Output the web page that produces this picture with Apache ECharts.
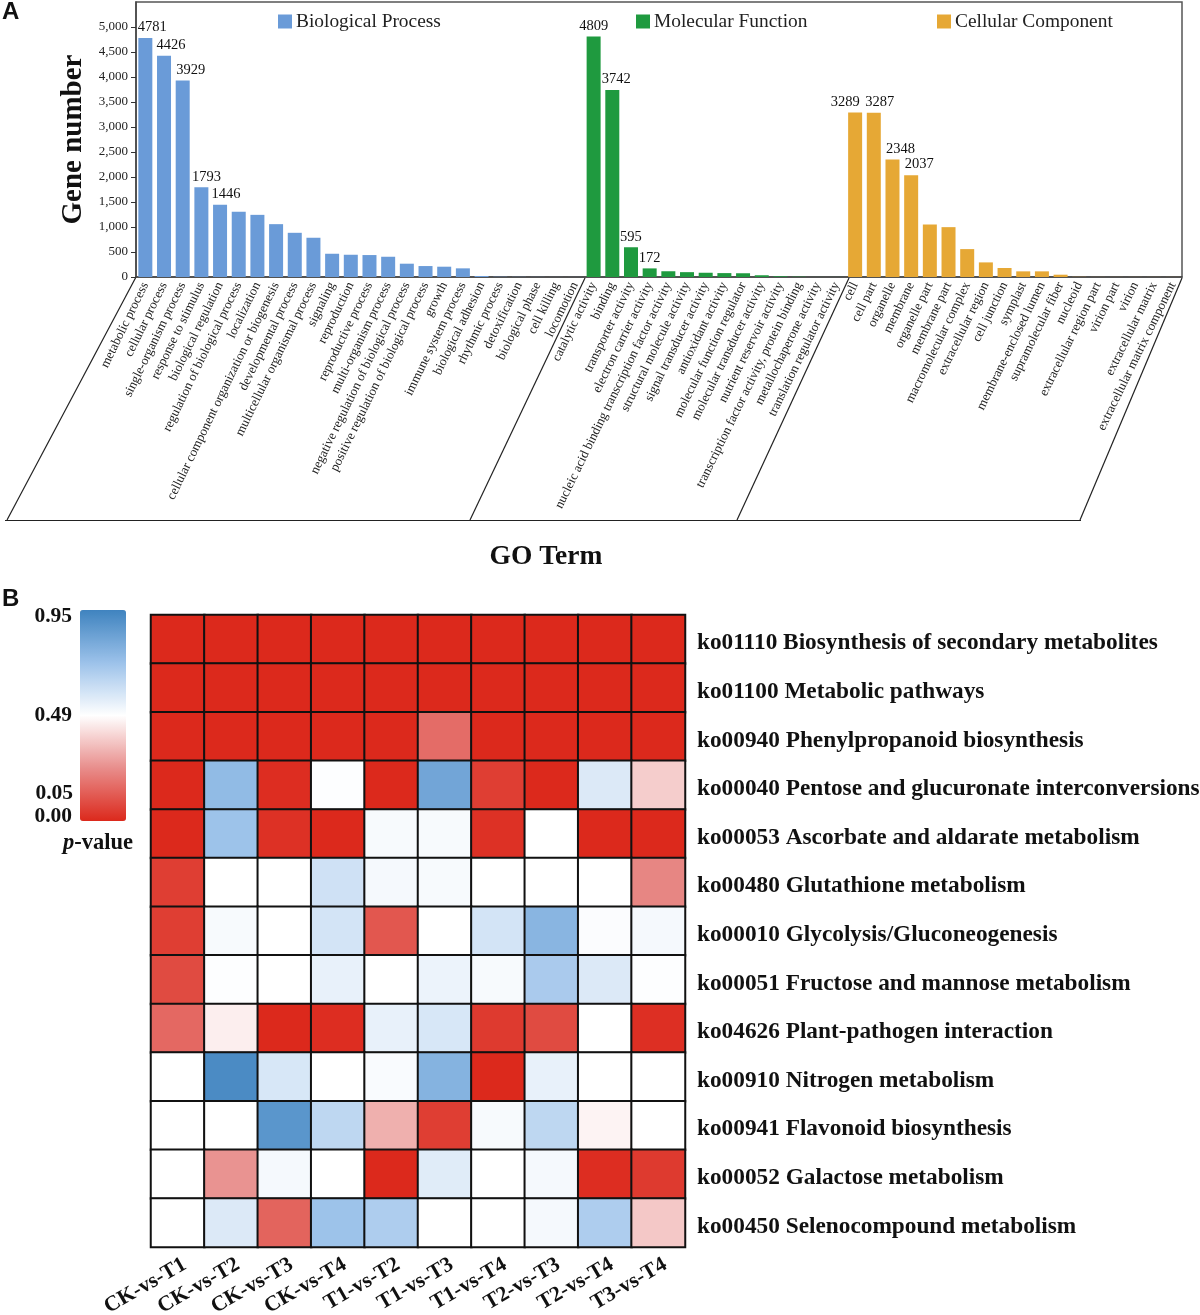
<!DOCTYPE html>
<html lang="en">
<head>
<meta charset="utf-8">
<title>GO terms and KEGG pathways</title>
<script src="https://cdn.jsdelivr.net/npm/echarts@6/dist/echarts.min.js"></script>
<style>
  html, body { margin: 0; padding: 0; background: #fff; }
  #chart { width: 1200px; height: 1315px; }
</style>
</head>
<body>
<div id="chart"></div>
<script>
var bpTerms = ['metabolic process', 'cellular process', 'single-organism process', 'response to stimulus',
    'biological regulation', 'regulation of biological process', 'localization',
    'cellular component organization or biogenesis', 'developmental process', 'multicellular organismal process',
    'signaling', 'reproduction', 'reproductive process', 'multi-organism process',
    'negative regulation of biological process', 'positive regulation of biological process', 'growth',
    'immune system process', 'biological adhesion', 'rhythmic process', 'detoxification', 'biological phase',
    'cell killing', 'locomotion'];
var mfTerms = ['catalytic activity', 'binding', 'transporter activity', 'electron carrier activity',
    'nucleic acid binding transcription factor activity', 'structural molecule activity',
    'signal transducer activity', 'antioxidant activity', 'molecular function regulator',
    'molecular transducer activity', 'nutrient reservoir activity', 'transcription factor activity, protein binding',
    'metallochaperone activity', 'translation regulator activity'];
var ccTerms = ['cell', 'cell part', 'organelle', 'membrane', 'organelle part', 'membrane part',
    'macromolecular complex', 'extracellular region', 'cell junction', 'symplast', 'membrane-enclosed lumen',
    'supramolecular fiber', 'nucleoid', 'extracellular region part', 'virion part', 'virion',
    'extracellular matrix', 'extracellular matrix component'];

var bpValues = [4781, 4426, 3929, 1793, 1446, 1303, 1243, 1057, 884, 785, 465, 445, 439, 405, 266, 219, 206, 173, 20, 5, 3, 2, 1, 1];
var mfValues = [4809, 3742, 595, 172, 115, 97, 85, 78, 75, 35, 14, 6, 1, 1];
var ccValues = [3289, 3287, 2348, 2037, 1050, 997, 558, 292, 180, 113, 113, 46, 3, 1, 1, 1, 1, 1];

var yTicks = [0, 500, 1000, 1500, 2000, 2500, 3000, 3500, 4000, 4500, 5000];

var comparisons = ['CK-vs-T1', 'CK-vs-T2', 'CK-vs-T3', 'CK-vs-T4', 'T1-vs-T2', 'T1-vs-T3', 'T1-vs-T4', 'T2-vs-T3', 'T2-vs-T4', 'T3-vs-T4'];
var pathways = ['ko01110 Biosynthesis of secondary metabolites', 'ko01100 Metabolic pathways',
    'ko00940 Phenylpropanoid biosynthesis', 'ko00040 Pentose and glucuronate interconversions',
    'ko00053 Ascorbate and aldarate metabolism', 'ko00480 Glutathione metabolism',
    'ko00010 Glycolysis/Gluconeogenesis', 'ko00051 Fructose and mannose metabolism',
    'ko04626 Plant-pathogen interaction', 'ko00910 Nitrogen metabolism', 'ko00941 Flavonoid biosynthesis',
    'ko00052 Galactose metabolism', 'ko00450 Selenocompound metabolism'];

var row01 = [0, 0, 0, 0, 0, 0, 0, 0, 0, 0];
var row02 = [0, 0, 0, 0, 0, 0, 0, 0, 0, 0];
var row03 = [0, 0, 0, 0, 0, 0.16, 0, 0, 0, 0];
var row04 = [0, 0.74, 0.01, 0.48, 0, 0.82, 0.05, 0, 0.56, 0.37];
var row05 = [0, 0.71, 0.02, 0, 0.495, 0.495, 0.02, 0.475, 0, 0];
var row06 = [0.05, 0.475, 0.475, 0.59, 0.5, 0.495, 0.475, 0.475, 0.475, 0.22];
var row07 = [0.05, 0.495, 0.475, 0.58, 0.11, 0.475, 0.58, 0.76, 0.485, 0.5];
var row08 = [0.08, 0.48, 0.475, 0.53, 0.475, 0.52, 0.495, 0.68, 0.56, 0.48];
var row09 = [0.15, 0.44, 0, 0.01, 0.53, 0.57, 0.04, 0.08, 0.475, 0.015];
var row10 = [0.475, 0.92, 0.57, 0.475, 0.49, 0.77, 0, 0.53, 0.475, 0.475];
var row11 = [0.475, 0.475, 0.88, 0.63, 0.31, 0.05, 0.495, 0.63, 0.45, 0.475];
var row12 = [0.475, 0.25, 0.5, 0.475, 0, 0.55, 0.475, 0.5, 0.01, 0.04];
var row13 = [0.475, 0.56, 0.14, 0.71, 0.67, 0.475, 0.475, 0.5, 0.67, 0.36];
var pRows = [row01, row02, row03, row04, row05, row06, row07, row08, row09, row10, row11, row12, row13];

var SERIF = '"Liberation Serif", "Times New Roman", serif';
var allTerms = bpTerms.concat(mfTerms, ccTerms);

// one bar series per GO class, padded with nulls so they share the category axis
function goSeries(name, values, start, color, shifts) {
    var data = allTerms.map(function () { return null; });
    values.forEach(function (v, i) {
        var item = { value: v };
        if (i < shifts.length) {
            item.label = { show: true, position: 'top', distance: 3, offset: [shifts[i], 0] };
        }
        data[start + i] = item;
    });
    return {
        name: name,
        type: 'bar',
        xAxisIndex: 0,
        yAxisIndex: 0,
        barWidth: 14,
        barGap: '-100%',
        itemStyle: { color: color },
        label: { fontFamily: SERIF, fontSize: 14.5, color: '#111' },
        data: data
    };
}

var heatData = [];
pRows.forEach(function (row, r) {
    row.forEach(function (v, c) {
        heatData.push([c, r, v]);
    });
});

function plainText(text, x, y, size, align, weight, family) {
    return {
        type: 'text',
        x: x,
        y: y,
        style: {
            text: text,
            fill: '#111',
            font: (weight || 'bold') + ' ' + size + 'px ' + (family || SERIF),
            textAlign: align || 'left',
            textVerticalAlign: 'middle'
        }
    };
}

function rule(points) {
    return {
        type: 'polyline',
        shape: { points: points },
        style: { stroke: '#222', lineWidth: 1.2, fill: null }
    };
}

var myChart = echarts.init(document.getElementById('chart'), null, { renderer: 'canvas' });

myChart.setOption({
    animation: false,
    backgroundColor: '#fff',
    grid: [
        { left: 136, top: 2, width: 1046, height: 275, outerBoundsMode: 'none', show: true, borderColor: '#555', borderWidth: 1.5, backgroundColor: 'transparent' },
        { left: 151, top: 615, width: 534, height: 632, outerBoundsMode: 'none' }
    ],
    legend: [
        { data: ['Biological Process'], left: 278, top: 12, padding: 0 },
        { data: ['Molecular Function'], left: 636, top: 12, padding: 0 },
        { data: ['Cellular Component'], left: 937, top: 12, padding: 0 }
    ].map(function (l) {
        l.icon = 'rect';
        l.itemWidth = 14;
        l.itemHeight = 14;
        l.itemGap = 5;
        l.textStyle = { fontFamily: SERIF, fontSize: 19.4, color: '#222', padding: [0, 0, 0, -1] };
        return l;
    }),
    xAxis: [
        {
            type: 'category',
            gridIndex: 0,
            data: allTerms,
            axisLine: { lineStyle: { color: '#444', width: 1.5 } },
            axisTick: { alignWithLabel: true, length: 5, lineStyle: { color: '#333' } },
            axisLabel: { interval: 0, rotate: 64, margin: 6, fontFamily: SERIF, fontSize: 13, color: '#222' }
        },
        {
            type: 'category',
            gridIndex: 1,
            data: comparisons,
            axisLine: { lineStyle: { color: '#111', width: 2 } },
            axisTick: { show: false },
            axisLabel: { interval: 0, rotate: 30, margin: 4, verticalAlign: 'top', lineHeight: 28, fontFamily: SERIF, fontWeight: 'bold', fontSize: 21.5, color: '#111' }
        }
    ],
    yAxis: [
        {
            type: 'value',
            gridIndex: 0,
            min: 0,
            max: 5500,
            name: 'Gene number',
            nameLocation: 'middle',
            nameGap: 47,
            nameTextStyle: { fontFamily: SERIF, fontWeight: 'bold', fontSize: 29, color: '#111' },
            splitLine: { show: false },
            axisLine: { show: true, lineStyle: { color: '#444', width: 1.5 } },
            axisTick: { show: true, length: 5, customValues: yTicks, lineStyle: { color: '#333' } },
            axisLabel: {
                customValues: yTicks,
                margin: 8,
                fontFamily: SERIF,
                fontSize: 13,
                color: '#222',
                formatter: function (v) { return v.toLocaleString('en-US'); }
            }
        },
        {
            type: 'category',
            gridIndex: 1,
            position: 'right',
            inverse: true,
            data: pathways,
            axisLine: { lineStyle: { color: '#111', width: 2 } },
            axisTick: { show: false },
            axisLabel: { interval: 0, margin: 12, verticalAlign: 'top', lineHeight: 8, fontFamily: SERIF, fontWeight: 'bold', fontSize: 23.3, color: '#111' }
        }
    ],
    visualMap: {
        type: 'continuous',
        seriesIndex: 3,
        min: 0,
        max: 0.95,
        left: 80,
        top: 610,
        padding: 0,
        itemWidth: 46,
        itemHeight: 211,
        calculable: false,
        text: null,
        showLabel: false,
        inRange: { color: ['#dc291c', '#e88d8b', '#ffffff', '#9cc2ea', '#3f83bf'] }
    },
    series: [
        goSeries('Biological Process', bpValues, 0, '#6a9bd8', [7, 7, 8, 5, 6]),
        goSeries('Molecular Function', mfValues, bpTerms.length, '#1f9a3f', [0, 4, 0, 0]),
        goSeries('Cellular Component', ccValues, bpTerms.length + mfTerms.length, '#e6a835', [-10, 6, 8, 8]),
        {
            type: 'heatmap',
            xAxisIndex: 1,
            yAxisIndex: 1,
            data: heatData,
            itemStyle: { borderColor: '#111', borderWidth: 2 }
        }
    ],
    graphic: [
        // slanted dividers under the rotated GO labels
        rule([[136, 277], [7, 520]]),
        rule([[585, 278], [470, 520]]),
        rule([[849, 278], [737, 520]]),
        rule([[1182, 278], [1080, 520]]),
        rule([[5, 520.5], [1081, 520.5]]),
        plainText('A', 2, 12, 24, 'left', 'bold', '"Liberation Sans", Arial, sans-serif'),
        plainText('B', 2, 599, 24, 'left', 'bold', '"Liberation Sans", Arial, sans-serif'),
        plainText('GO Term', 546, 557, 27.5, 'center'),
        plainText('0.95', 72, 616, 21.5, 'right'),
        plainText('0.49', 72, 715, 21.5, 'right'),
        plainText('0.05', 73, 793, 21.5, 'right'),
        plainText('0.00', 72, 816, 21.5, 'right'),
        {
            type: 'text',
            x: 63,
            y: 843,
            style: {
                text: '{i|p}{b|-value}',
                textVerticalAlign: 'middle',
                rich: {
                    i: { font: 'italic bold 22.5px ' + SERIF, fill: '#111' },
                    b: { font: 'bold 22.5px ' + SERIF, fill: '#111' }
                }
            }
        }
    ]
});
</script>
</body>
</html>
